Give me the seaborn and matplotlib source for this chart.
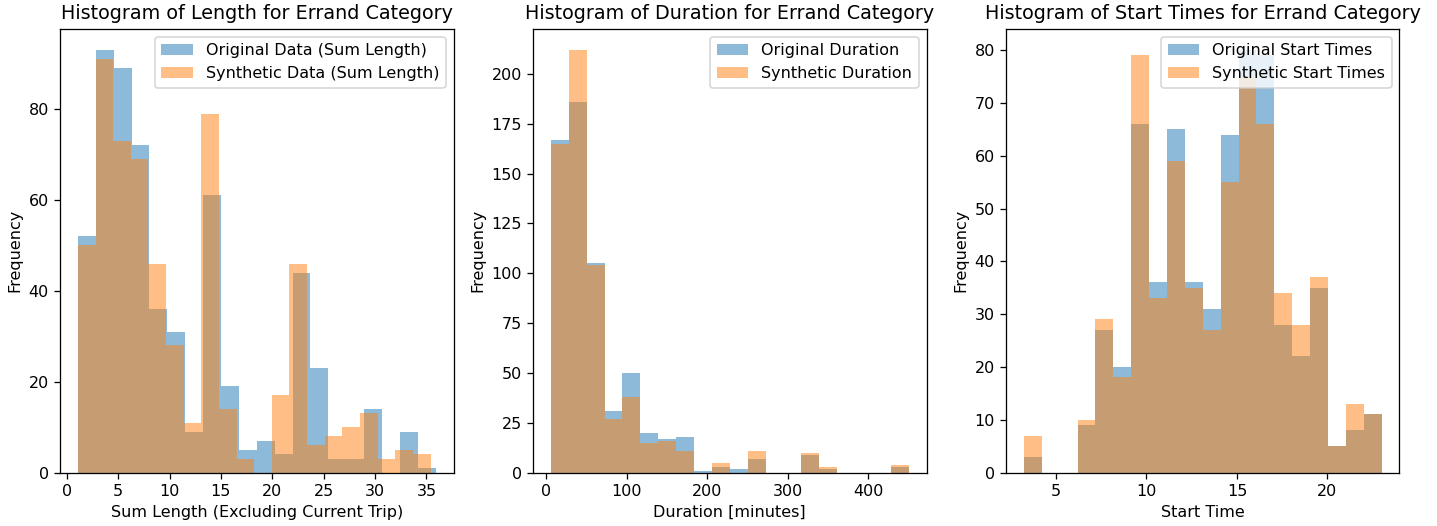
import numpy as np
import pandas as pd
import matplotlib
matplotlib.use("Agg")
import matplotlib.pyplot as plt
import seaborn as sns

# ---- Data ----
# Panel 1: Sum Length
length_orig_range = (1.09, 35.9)
length_orig_counts = [52, 93, 89, 72, 36, 31, 9, 61, 19, 5, 7, 4, 44, 23, 3, 3, 14, 0, 9, 1]
length_syn_range = (1.09, 35.4)
length_syn_counts = [50, 91, 73, 69, 46, 28, 11, 79, 14, 3, 0, 17, 46, 6, 8, 10, 13, 3, 5, 4]

# Panel 2: Duration
duration_orig_range = (6.0, 450.0)
duration_orig_counts = [167, 186, 105, 31, 50, 20, 17, 18, 1, 3, 2, 7, 0, 0, 9, 2, 0, 0, 0, 3]
duration_syn_range = (6.0, 450.0)
duration_syn_counts = [165, 212, 104, 27, 38, 15, 16, 11, 0, 5, 0, 11, 0, 0, 10, 3, 0, 0, 0, 4]

# Panel 3: Start Times
start_orig_range = (3.23, 22.99)
start_orig_counts = [3, 0, 0, 9, 27, 20, 66, 36, 65, 36, 31, 64, 80, 79, 28, 22, 35, 5, 8, 11]
start_syn_range = (3.23, 22.99)
start_syn_counts = [7, 0, 0, 10, 29, 18, 79, 33, 59, 35, 27, 55, 75, 66, 34, 28, 37, 5, 13, 11]

titles = ["Histogram of Length for Errand Category",
          "Histogram of Duration for Errand Category",
          "Histogram of Start Times for Errand Category"]
xlabels = ["Sum Length (Excluding Current Trip)", "Duration [minutes]", "Start Time"]
orig_labels = ["Original Data (Sum Length)", "Original Duration", "Original Start Times"]
syn_labels = ["Synthetic Data (Sum Length)", "Synthetic Duration", "Synthetic Start Times"]

panels = [
    (length_orig_range, length_orig_counts, length_syn_range, length_syn_counts),
    (duration_orig_range, duration_orig_counts, duration_syn_range, duration_syn_counts),
    (start_orig_range, start_orig_counts, start_syn_range, start_syn_counts),
]

BLUE = "#1f77b4"
ORANGE = "#ff7f0e"

plt.rcParams["font.family"] = ["DejaVu Sans"]

DPI = 115
fig, axes = plt.subplots(1, 3, figsize=(1437 / DPI, 526 / DPI), dpi=DPI)
fig.subplots_adjust(left=0.0418, right=0.9739, bottom=0.1017, top=0.9449, wspace=0.202)


def draw_hist(ax, rng, counts, color, label):
    n = len(counts)
    edges = np.linspace(rng[0], rng[1], n + 1)
    centers = (edges[:-1] + edges[1:]) / 2
    df = pd.DataFrame({"value": centers, "count": np.asarray(counts, dtype=float)})
    sns.histplot(data=df, x="value", weights="count", bins=list(edges), ax=ax,
                 color=color, alpha=0.5, linewidth=0, label=label)


for ax, (o_rng, o_cnt, s_rng, s_cnt), title, xl, ol, sl in zip(
        axes, panels, titles, xlabels, orig_labels, syn_labels):
    draw_hist(ax, o_rng, o_cnt, BLUE, ol)
    draw_hist(ax, s_rng, s_cnt, ORANGE, sl)
    ax.set_title(title, fontsize=12)
    ax.set_xlabel(xl)
    ax.set_ylabel("Frequency")
    ax.legend(loc="upper right")

axes[0].set_xticks([0, 5, 10, 15, 20, 25, 30, 35])
axes[1].set_xticks([0, 100, 200, 300, 400])
axes[1].set_yticks([0, 25, 50, 75, 100, 125, 150, 175, 200])
axes[2].set_xticks([5, 10, 15, 20])

fig.savefig("out.png", dpi=DPI)
